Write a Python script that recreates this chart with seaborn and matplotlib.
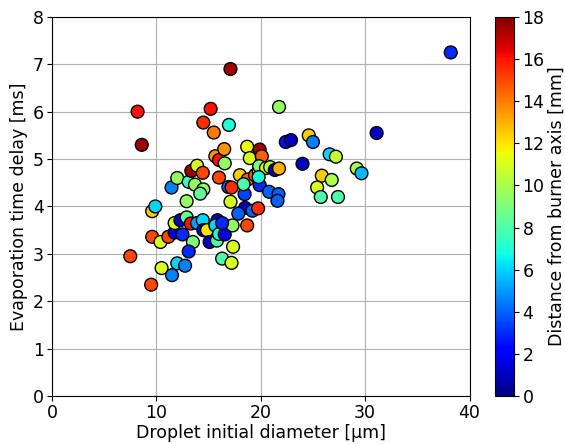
import matplotlib
matplotlib.use("Agg")
import matplotlib.pyplot as plt
import numpy as np
import pandas as pd
import seaborn as sns

# droplet initial diameter [um]
diameter = [7.5, 9.5, 8.2, 8.6, 9.6, 9.9, 9.6, 10.4, 10.5, 11.5,
            12.0, 12.75, 11.15, 11.75, 12.5, 11.75, 12.3, 12.9, 13.3, 13.9,
            14.45, 13.5, 13.1, 14.5, 14.85, 15.1, 15.8, 15.85, 15.65, 16.55,
            16.0, 16.55, 17.3, 16.3, 17.2, 17.35, 18.7, 18.5, 17.85, 19.2,
            19.75, 17.1, 18.45, 12.9, 11.45, 12.0, 13.1, 13.7, 14.5, 14.2,
            13.35, 13.9, 14.45, 15.2, 14.5, 15.5, 15.65, 16.0, 16.55, 16.5,
            16.0, 16.95, 17.1, 18.7, 18.95, 19.9, 20.1, 18.0, 18.75, 19.45,
            19.8, 19.85, 20.5, 20.9, 21.35, 21.75, 19.9, 18.35, 16.9, 17.2,
            20.8, 21.7, 21.6, 21.75, 22.4, 22.9, 24.6, 25.0, 24.0, 26.6,
            27.2, 29.2, 29.65, 25.85, 26.8, 25.4, 25.75, 27.4, 31.1, 38.2,
            16.3, 19.8]
# evaporation time delay [ms]
delay = [2.95, 2.35, 6.0, 5.3, 3.9, 4.0, 3.36, 3.25, 2.7, 2.55,
         2.8, 2.75, 3.36, 3.45, 3.41, 3.65, 3.71, 3.77, 3.64, 3.65,
         3.71, 3.25, 3.05, 3.5, 3.5, 3.25, 3.28, 3.71, 3.6, 3.6,
         3.42, 3.41, 3.6, 2.9, 2.81, 3.15, 3.6, 3.97, 3.85, 3.91,
         3.96, 4.1, 4.26, 4.11, 4.4, 4.6, 4.52, 4.46, 4.36, 4.27,
         4.75, 4.86, 4.71, 6.06, 5.77, 5.56, 5.06, 4.98, 4.91, 5.21,
         4.61, 5.72, 6.9, 5.26, 5.02, 5.2, 5.06, 4.66, 4.57, 4.66,
         4.75, 4.85, 4.81, 4.83, 4.77, 4.8, 4.45, 4.47, 4.41, 4.4,
         4.31, 4.26, 4.12, 6.1, 5.36, 5.4, 5.5, 5.36, 4.9, 5.1,
         5.05, 4.8, 4.7, 4.65, 4.56, 4.4, 4.2, 4.2, 5.55, 7.25,
         3.65, 4.62]
# distance from burner axis [mm]
distance = [15, 15, 16, 17.5, 12.5, 6, 15, 11, 11, 4.5,
            6, 4.5, 15, 1.5, 3, 11, 1, 8.5, 16, 5,
            6, 9, 3, 1, 12, 1, 8, 1, 6, 3,
            7, 1.5, 9.5, 8, 11, 11, 15, 1, 4, 4,
            15.5, 11, 3.5, 9.5, 4.5, 9.5, 7.5, 9.5, 9.5, 8.5,
            17.5, 11, 15, 16, 15.5, 14, 13.5, 16, 9.5, 13.5,
            15, 7, 17.5, 11.5, 11, 17.5, 14.5, 12.5, 14.5, 14.5,
            8.5, 9, 11, 10.5, 1, 13, 3, 8, 4, 15.5,
            4, 4, 4, 9.5, 2.5, 1, 12.5, 4.5, 1, 6,
            10.5, 10, 5.5, 12.5, 10, 11, 8, 8, 1, 3,
            3, 7]

x_ticks = [0, 10, 20, 30, 40]
y_ticks = [0, 1, 2, 3, 4, 5, 6, 7, 8]
cb_ticks = [0, 2, 4, 6, 8, 10, 12, 14, 16, 18]

df = pd.DataFrame({"diameter": diameter, "delay": delay, "distance": distance})

fig = plt.figure(figsize=(5.65, 4.44), dpi=100)
ax = fig.add_axes([0.092, 0.108, 0.739, 0.854])
cax = fig.add_axes([0.876, 0.108, 0.034, 0.854])

jet = matplotlib.colormaps["jet"]
norm = plt.Normalize(0, 18)
sns.scatterplot(data=df, x="diameter", y="delay", hue="distance", palette=jet,
                hue_norm=norm, s=85, edgecolor="black", linewidth=1,
                legend=False, ax=ax, zorder=3)

ax.set_xlim(0, 40)
ax.set_ylim(0, 8)
ax.set_xticks(x_ticks)
ax.set_yticks(y_ticks)
ax.grid(True, color="#b0b0b0", linewidth=0.8)
ax.set_axisbelow(True)
ax.tick_params(labelsize=12.5, pad=2.5)
ax.set_xlabel("Droplet initial diameter [\u03bcm]", fontsize=12.5, labelpad=1)
ax.set_ylabel("Evaporation time delay [ms]", fontsize=12.5, labelpad=3)

sm = plt.cm.ScalarMappable(cmap=jet, norm=norm)
cb = fig.colorbar(sm, cax=cax)
cb.set_ticks(cb_ticks)
cb.ax.tick_params(labelsize=12.5, pad=2.5)
cb.set_label("Distance from burner axis [mm]", fontsize=12.5, labelpad=2)

fig.savefig("out.png", dpi=100)
